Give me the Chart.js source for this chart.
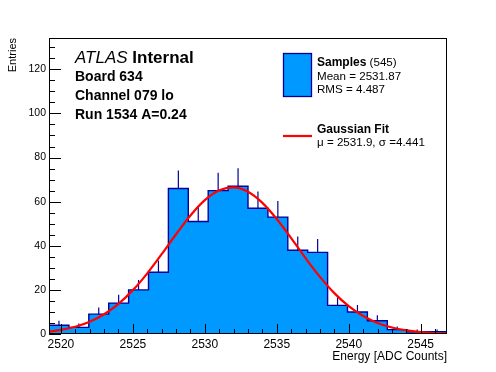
<!DOCTYPE html>
<html>
<head>
<meta charset="utf-8">
<script src="https://cdn.jsdelivr.net/npm/chart.js@4/dist/chart.umd.min.js"></script>
<style>
  html, body { margin: 0; padding: 0; background: #fff; }
  #wrap { width: 496px; height: 372px; }
</style>
</head>
<body>
<div id="wrap"><canvas id="energyChart" width="496" height="372"></canvas></div>
<script>
// histogram bins (ADC counts), left edges + final right edge
const binEdges = [2519.17, 2520.553, 2521.936, 2523.319, 2524.702, 2526.085, 2527.468,
  2528.851, 2530.234, 2531.617, 2533.0, 2534.383, 2535.766, 2537.149, 2538.532,
  2539.915, 2541.298, 2542.681, 2544.064, 2545.447, 2546.83];
const counts = [4, 3, 9, 14, 20, 28, 66, 51, 65, 67, 57, 53, 38, 37, 13, 10, 6, 2, 1, 1];

// gaussian fit curve
const fitX = [2519.17, 2520, 2521, 2522, 2523, 2524, 2525, 2526, 2527, 2528, 2529, 2530,
  2531, 2532, 2533, 2534, 2535, 2536, 2537, 2538, 2539, 2540, 2541, 2542, 2543, 2544,
  2545, 2546, 2546.83];
const fitY = [1.09, 1.84, 3.27, 5.54, 8.93, 13.67, 19.89, 27.51, 36.18, 45.22, 53.73, 60.68,
  65.15, 66.48, 64.49, 59.47, 52.12, 43.43, 34.39, 25.89, 18.53, 12.6, 8.15, 5.01, 2.92, 1.62,
  0.86, 0.43, 0.23];

const xTicks = [2520, 2525, 2530, 2535, 2540, 2545];
const yTicks = [0, 20, 40, 60, 80, 100, 120];

const FONT = 'Liberation Sans, Arial, Helvetica, sans-serif';
const fillBlue = '#0099ff';
const lineBlue = '#000099';

// stepped outline: each left edge carries its bin count, last edge repeats the last count
const histPoints = binEdges.map((x, i) => ({ x: x, y: counts[Math.min(i, counts.length - 1)] }));

// upper error bars at bin centres, separated by gaps
const errPoints = [];
counts.forEach((c, i) => {
  const mid = (binEdges[i] + binEdges[i + 1]) / 2;
  errPoints.push({ x: mid, y: c }, { x: mid, y: c + Math.sqrt(c) }, { x: mid, y: null });
});

const fitPoints = fitX.map((x, i) => ({ x: x, y: fitY[i] }));

const frameAndTicks = {
  id: 'frameAndTicks',
  afterDatasetsDraw(chart) {
    const { ctx, chartArea: a, scales } = chart;
    const x = scales.x, y = scales.y;
    ctx.save();
    ctx.strokeStyle = '#000';
    ctx.lineWidth = 1;
    ctx.beginPath();
    for (let v = 2520; v <= 2546; v++) {
      const px = Math.round(x.getPixelForValue(v)) + 0.5;
      const len = v % 5 === 0 ? 10 : 5;
      ctx.moveTo(px, a.bottom);
      ctx.lineTo(px, a.bottom - len);
    }
    for (let v = 0; v <= 130; v += 5) {
      const py = Math.round(y.getPixelForValue(v)) + 0.5;
      const len = v % 20 === 0 ? 12 : 6;
      ctx.moveTo(a.left, py);
      ctx.lineTo(a.left + len, py);
    }
    ctx.stroke();
    ctx.strokeRect(Math.round(a.left) + 0.5, Math.round(a.top) + 0.5,
      Math.round(a.width) - 1, Math.round(a.height) - 1);
    ctx.restore();
  }
};

const labels = {
  id: 'labels',
  afterDraw(chart) {
    const ctx = chart.ctx;
    ctx.save();
    ctx.fillStyle = '#000';
    ctx.textBaseline = 'alphabetic';
    ctx.textAlign = 'left';

    ctx.font = 'italic 17px ' + FONT;
    ctx.fillText('ATLAS', 75, 63);
    const w = ctx.measureText('ATLAS ').width;
    ctx.font = 'bold 17px ' + FONT;
    ctx.fillText('Internal', 75 + w, 63);

    ctx.font = 'bold 14px ' + FONT;
    ctx.fillText('Board 634', 75, 81);
    ctx.fillText('Channel 079 lo', 75, 100);
    ctx.fillText('Run 1534 A=0.24', 75, 119);

    // legend
    ctx.fillStyle = fillBlue;
    ctx.fillRect(283.5, 53.5, 28, 43);
    ctx.strokeStyle = lineBlue;
    ctx.lineWidth = 1.3;
    ctx.strokeRect(283.5, 53.5, 28, 43);

    ctx.fillStyle = '#000';
    ctx.font = 'bold 12px ' + FONT;
    ctx.fillText('Samples', 317, 66);
    const sw = ctx.measureText('Samples').width;
    ctx.font = '11.6px ' + FONT;
    ctx.fillText(' (545)', 317 + sw, 66);
    ctx.fillText('Mean = 2531.87', 317, 79.5);
    ctx.fillText('RMS = 4.487', 317, 93);

    ctx.strokeStyle = '#ff0000';
    ctx.lineWidth = 2.2;
    ctx.beginPath();
    ctx.moveTo(283, 136);
    ctx.lineTo(312, 136);
    ctx.stroke();

    ctx.font = 'bold 12px ' + FONT;
    ctx.fillText('Gaussian Fit', 317, 133);
    ctx.font = '11.6px ' + FONT;
    ctx.fillText('\u03bc = 2531.9, \u03c3 =4.441', 317, 146);
    ctx.restore();
  }
};

const ctx = document.getElementById('energyChart');

const energyChart = new Chart(ctx, {
  type: 'line',
  data: {
    datasets: [
      {
        label: 'Gaussian Fit',
        data: fitPoints,
        borderColor: '#ff0000',
        borderWidth: 2.2,
        pointRadius: 0,
        cubicInterpolationMode: 'monotone',
        fill: false,
      },
      {
        label: 'errors',
        data: errPoints,
        borderColor: lineBlue,
        borderWidth: 1.2,
        pointRadius: 0,
        spanGaps: false,
        fill: false,
      },
      {
        label: 'Samples',
        data: histPoints,
        stepped: true,
        borderColor: lineBlue,
        borderWidth: 1.4,
        backgroundColor: fillBlue,
        pointRadius: 0,
        fill: 'origin',
      },
    ],
  },
  options: {
    responsive: false,
    animation: false,
    layout: { padding: { top: 38, right: 49, bottom: 0, left: 0 } },
    plugins: {
      legend: { display: false },
      tooltip: { enabled: false },
    },
    scales: {
      x: {
        type: 'linear',
        min: 2519.17,
        max: 2546.83,
        afterBuildTicks: (axis) => { axis.ticks = xTicks.map((v) => ({ value: v })); },
        afterFit: (axis) => { axis.height = 38; },
        grid: { display: false, drawTicks: false },
        border: { display: false },
        ticks: {
          color: '#000',
          padding: 3,
          maxRotation: 0,
          autoSkip: false,
          font: { family: FONT, size: 12 },
          callback: (value) => String(value),
        },
        title: {
          display: true,
          text: 'Energy [ADC Counts]',
          align: 'end',
          color: '#000',
          font: { family: FONT, size: 12 },
          padding: { top: 0, bottom: 8 },
        },
      },
      y: {
        type: 'linear',
        min: 0,
        max: 134.2,
        afterBuildTicks: (axis) => { axis.ticks = yTicks.map((v) => ({ value: v })); },
        afterFit: (axis) => { axis.width = 49; },
        grid: { display: false, drawTicks: false },
        border: { display: false },
        ticks: {
          color: '#000',
          padding: 3,
          font: { family: FONT, size: 10.5 },
          callback: (value) => String(value),
        },
        title: {
          display: true,
          text: 'Entries',
          align: 'end',
          color: '#000',
          font: { family: FONT, size: 11 },
          padding: { top: 6, bottom: 0 },
        },
      },
    },
  },
  plugins: [frameAndTicks, labels],
});
</script>
</body>
</html>
